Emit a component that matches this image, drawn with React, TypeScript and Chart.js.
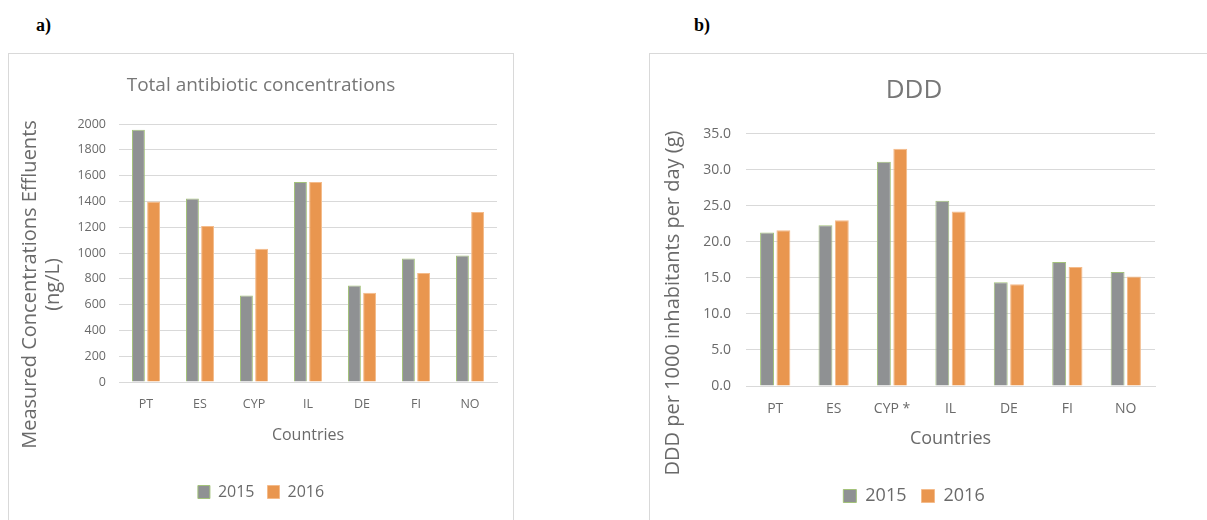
import React, { useEffect, useRef } from "react";
import { Chart, registerables } from "chart.js";
Chart.register(...registerables);

const FONT = "'Open Sans', 'Noto Sans', sans-serif";

const countriesA = ["PT", "ES", "CYP", "IL", "DE", "FI", "NO"];
const concentrations2015 = [1955, 1423, 671, 1550, 749, 958, 981];
const concentrations2016 = [1400, 1209, 1033, 1550, 692, 845, 1318];

const countriesB = ["PT", "ES", "CYP *", "IL", "DE", "FI", "NO"];
const ddd2015 = [21.3, 22.3, 31.1, 25.7, 14.4, 17.2, 15.8];
const ddd2016 = [21.6, 23.0, 32.9, 24.2, 14.1, 16.5, 15.2];

const seriesLabels = ["2015", "2016"];
const titleA = "Total antibiotic concentrations";
const titleB = "DDD";
const yTitleA = ["Measured Concentrations Effluents", "(ng/L)"];
const yTitleB = ["DDD per 1000 inhabitants per day (g)"];
const xTitle = "Countries";

const GRAY = "#8f9193";
const GRAY_BORDER = "#a3c27a";
const ORANGE = "#e9964f";
const ORANGE_BORDER = "#f4bb8a";
const GRID = "#d9d9d9";
const TEXT = "#6a6a6a";

function yTitlePlugin(lines: string[], x: number, y: number, size: number, gap: number) {
  return {
    id: "yTitleCustom",
    afterDraw(chart: any) {
      const ctx = chart.ctx;
      ctx.save();
      ctx.font = `${size}px ${FONT}`;
      ctx.fillStyle = TEXT;
      ctx.textAlign = "center";
      ctx.textBaseline = "middle";
      lines.forEach((line, i) => {
        ctx.save();
        ctx.translate(x + i * gap, y);
        ctx.rotate(-Math.PI / 2);
        ctx.fillText(line, 0, 0);
        ctx.restore();
      });
      ctx.restore();
    },
  };
}

function makeConfig(p: any) {
  return {
    type: "bar",
    data: {
      labels: p.labels,
      datasets: [
        {
          label: seriesLabels[0],
          data: p.s1,
          backgroundColor: GRAY,
          borderColor: GRAY_BORDER,
          borderWidth: 1,
          categoryPercentage: 0.56,
          barPercentage: 0.85,
        },
        {
          label: seriesLabels[1],
          data: p.s2,
          backgroundColor: ORANGE,
          borderColor: ORANGE_BORDER,
          borderWidth: 1,
          categoryPercentage: 0.56,
          barPercentage: 0.85,
        },
      ],
    },
    options: {
      responsive: false,
      animation: false,
      layout: { padding: { left: p.padSide, right: p.padSide, top: 0, bottom: p.padBottom } },
      plugins: {
        title: {
          display: true,
          text: p.title,
          color: "#777777",
          font: { family: FONT, size: p.titleSize, weight: "normal" },
          padding: { top: p.titlePadTop, bottom: p.titlePadBottom },
        },
        legend: {
          position: "bottom",
          labels: {
            color: TEXT,
            font: { family: FONT, size: p.legendSize },
            boxWidth: p.boxW,
            boxHeight: p.boxH,
            padding: p.legendPad,
          },
        },
        tooltip: { enabled: false },
      },
      scales: {
        x: {
          grid: { display: false, drawTicks: false },
          border: { display: true, color: GRID, width: 1 },
          ticks: { color: TEXT, font: { family: FONT, size: p.tickSize }, padding: p.xTickPad },
          title: {
            display: true,
            text: xTitle,
            color: TEXT,
            font: { family: FONT, size: p.xTitleSize },
            padding: { top: 0, bottom: p.xTitlePadBottom },
          },
          afterFit: (scale: any) => {
            scale.height = p.xHeight;
          },
        },
        y: {
          min: 0,
          max: p.max,
          grid: { color: GRID, lineWidth: 1, drawTicks: false },
          border: { display: false },
          ticks: {
            stepSize: p.step,
            color: TEXT,
            font: { family: FONT, size: p.yTickSize },
            padding: p.yTickPad,
            callback: p.fmt,
          },
          afterFit: (scale: any) => {
            scale.width = p.yWidth;
          },
        },
      },
    },
    plugins: [yTitlePlugin(p.yTitle, p.yTitleX, p.yTitleY, p.yTitleSize, p.yTitleGap)],
  };
}

export default function App() {
  const refA = useRef<HTMLCanvasElement>(null);
  const refB = useRef<HTMLCanvasElement>(null);

  useEffect(() => {
    const a = new Chart(
      refA.current as HTMLCanvasElement,
      makeConfig({
        labels: countriesA,
        s1: concentrations2015,
        s2: concentrations2016,
        title: titleA,
        titleSize: 19,
        titlePadTop: 20.6,
        titlePadBottom: 26.6,
        padSide: 16,
        padBottom: 10,
        legendSize: 16,
        boxW: 12,
        boxH: 13,
        legendPad: 13,
        tickSize: 12.5,
        yTickSize: 12.5,
        xTickPad: 14.5,
        xTitleSize: 16,
        xTitlePadBottom: 26.4,
        xHeight: 89,
        max: 2000,
        step: 200,
        yTickPad: 13,
        yWidth: 94,
        fmt: (v: any) => String(v),
        yTitle: yTitleA,
        yTitleX: 21,
        yTitleY: 230.5,
        yTitleSize: 20,
        yTitleGap: 23,
      }) as any
    );
    const b = new Chart(
      refB.current as HTMLCanvasElement,
      makeConfig({
        labels: countriesB,
        s1: ddd2015,
        s2: ddd2016,
        title: titleB,
        titleSize: 26,
        titlePadTop: 21.4,
        titlePadBottom: 27.1,
        padSide: 23,
        padBottom: 5,
        legendSize: 18,
        boxW: 13,
        boxH: 13,
        legendPad: 15,
        tickSize: 14,
        yTickSize: 14,
        xTickPad: 14.6,
        xTitleSize: 18,
        xTitlePadBottom: 22.2,
        xHeight: 86,
        max: 35,
        step: 5,
        yTickPad: 15,
        yWidth: 73,
        fmt: (v: any) => Number(v).toFixed(1),
        yTitle: yTitleB,
        yTitleX: 23,
        yTitleY: 249,
        yTitleSize: 20,
        yTitleGap: 23,
      }) as any
    );
    return () => {
      a.destroy();
      b.destroy();
    };
  }, []);

  const label: React.CSSProperties = {
    position: "absolute",
    fontFamily: "'Liberation Serif', 'Times New Roman', serif",
    fontWeight: "bold",
    fontSize: 18,
    lineHeight: "20px",
    color: "#000",
  };

  return (
    <div style={{ position: "fixed", left: 0, top: 0, width: 1207, height: 520, overflow: "hidden", background: "#fff" }}>
      <div style={{ ...label, left: 36, top: 15 }}>a)</div>
      <div style={{ ...label, left: 694, top: 15 }}>b)</div>
      <div style={{ position: "absolute", left: 8, top: 53, width: 504, height: 500, border: `1px solid ${GRID}` }} />
      <div style={{ position: "absolute", left: 649, top: 53, width: 620, height: 500, border: `1px solid ${GRID}` }} />
      <canvas ref={refA} width={504} height={466} style={{ position: "absolute", left: 9, top: 54 }} />
      <canvas ref={refB} width={528} height={466} style={{ position: "absolute", left: 650, top: 54 }} />
    </div>
  );
}
